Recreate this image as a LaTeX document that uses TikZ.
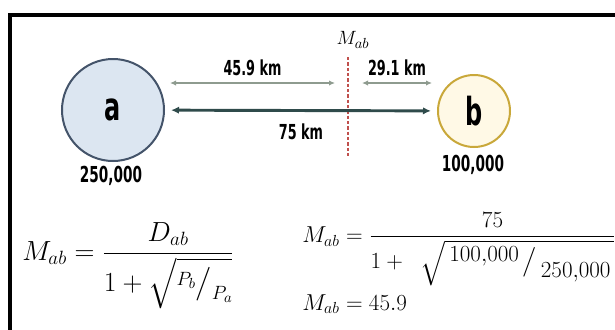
\documentclass[tikz,border=0pt]{standalone}
\usepackage{amsmath,amssymb}
\usepackage{fontspec}
\newfontfamily\lblfont[FakeStretch=0.62]{DejaVu Sans}
\usetikzlibrary{arrows.meta,positioning,calc}
\definecolor{cityAfill}{HTML}{DCE6F1}
\definecolor{cityAline}{HTML}{44546A}
\definecolor{cityBfill}{HTML}{FFF9E6}
\definecolor{cityBline}{HTML}{C9A83A}
\definecolor{partgray}{HTML}{8E9B8F}
\definecolor{distdark}{HTML}{2F4B4B}
\definecolor{midred}{HTML}{C0504D}
\tikzset{
  ciudad/.style={circle, draw, line width=1.5pt, inner sep=0pt,
                 font=\lblfont\bfseries\fontsize{29}{32}\selectfont},
  pobl/.style={font=\lblfont\bfseries\fontsize{16.5}{18}\selectfont, inner sep=1pt},
  dlbl/.style={font=\lblfont\bfseries\fontsize{15.5}{17}\selectfont, inner sep=2pt, text=black},
  parte/.style={{Latex[length=4.5pt,width=4pt]}-{Latex[length=4.5pt,width=4pt]}, partgray, line width=1.5pt},
  total/.style={{Latex[length=6pt,width=5.5pt]}-{Latex[length=6pt,width=5.5pt]}, distdark, line width=2.2pt},
  mline/.style={midred, line width=0.9pt, dash pattern=on 2.5pt off 1.5pt},
  formula/.style={inner sep=0pt}
}

\begin{document}
\begin{tikzpicture}[x=0.75pt,y=-0.75pt]
\useasboundingbox (0,0) rectangle (615,329);
\begin{scope}
\clip (0,0) rectangle (615,329);
\draw[line width=3pt] (10,14.5) rectangle (660,380);
\end{scope}

\node[ciudad,fill=cityAfill,draw=cityAline,minimum size=76.5pt] (a) at (113,110) {a};
\node[ciudad,fill=cityBfill,draw=cityBline,minimum size=54pt] (b) at (474,111) {b};
\node[pobl] (popA) at (111,176) {250,000};
\node[pobl] (popB) at (473,165) {100,000};

\node[font=\fontsize{15}{17}\selectfont,inner sep=1pt] (mab) at (353,40) {$M_{ab}$};
\coordinate (mtop) at (348,57);
\coordinate (mbot) at (348,158);
\draw[mline] (mtop) -- (mbot);

\coordinate (la) at (170,83);
\coordinate (lm) at (335,83);
\coordinate (rm) at (362,83);
\coordinate (rb) at (432,83);
\draw[parte] (la) -- node[dlbl,above=3pt]{45.9 km} (lm);
\draw[parte] (rm) -- node[dlbl,above=3pt]{29.1 km} (rb);
\draw[total,shorten <=4.5pt,shorten >=4.5pt] (a) -- node[dlbl,below=7pt]{75 km} (b);

\node[formula,font=\fontsize{21}{25}\selectfont,anchor=west] (fl) at (22,266)
  {$M_{ab}=\dfrac{D_{ab}}{1+\sqrt{\raisebox{0.5ex}{$\scriptstyle P_b$}\big/\raisebox{-0.7ex}{$\scriptstyle P_a$}}}$};
\node[formula,font=\fontsize{18.5}{22}\selectfont,anchor=west] (fr) at (302,249)
  {$M_{ab}=\dfrac{75}{1+\;\;\sqrt{\,\raisebox{0.6ex}{$100{,}000$}\,\big/\,\raisebox{-0.9ex}{$250{,}000$}\,}}$};
\node[formula,font=\fontsize{18}{21}\selectfont,anchor=west] (fr2) at (302,304) {$M_{ab}=45.9$};
\end{tikzpicture}
\end{document}
